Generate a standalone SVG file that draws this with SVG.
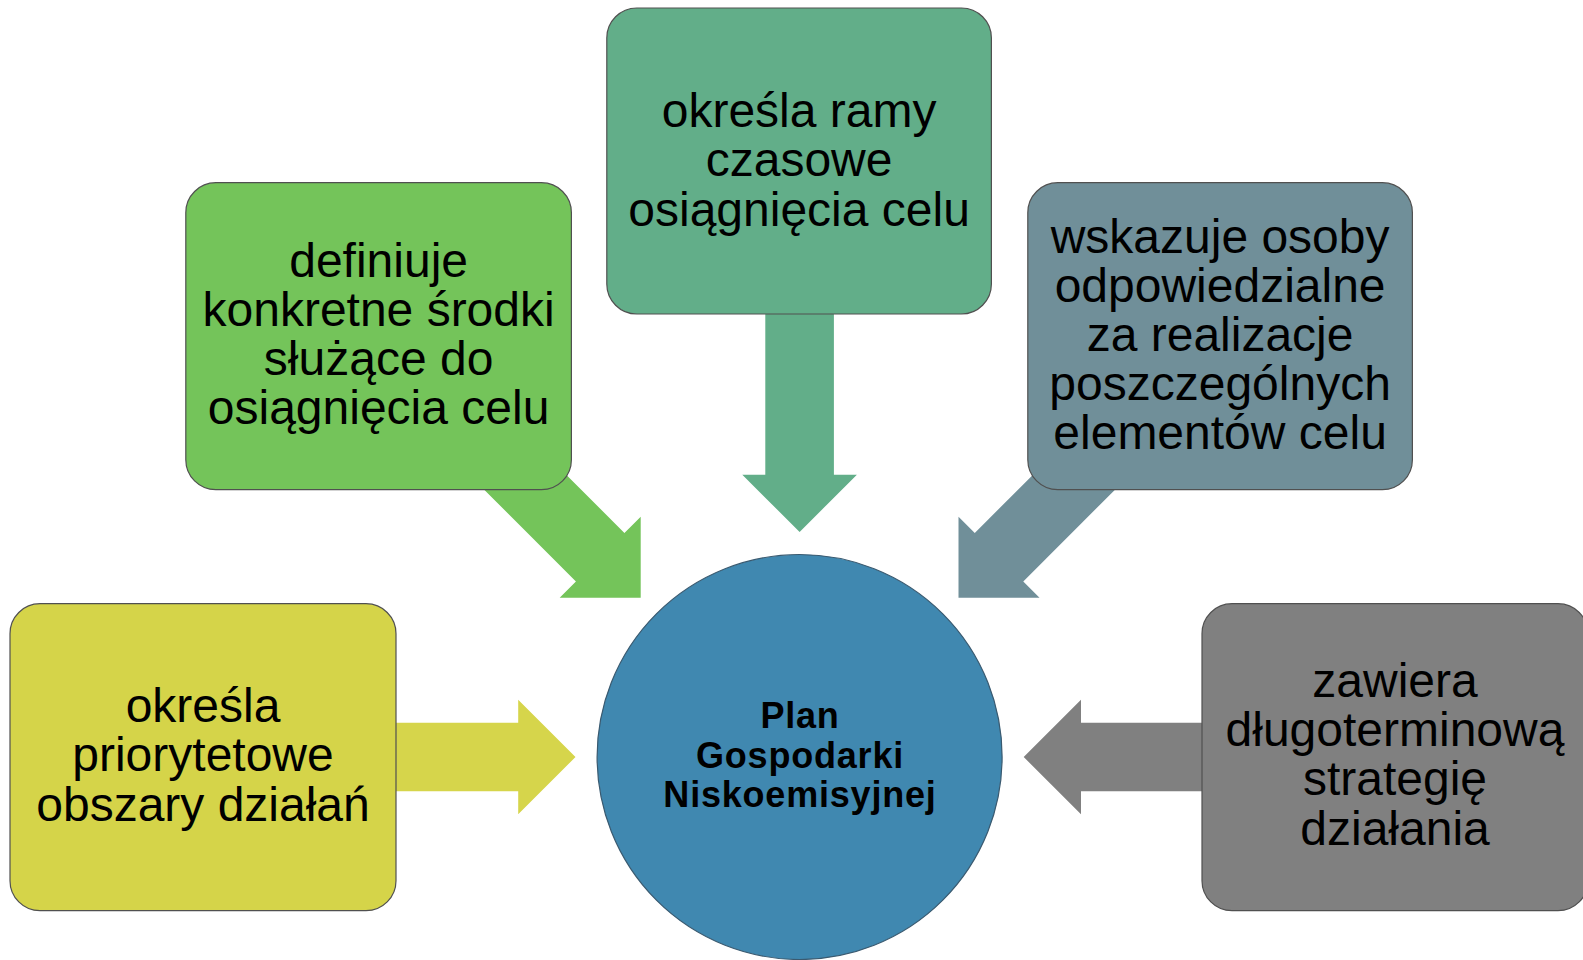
<svg xmlns="http://www.w3.org/2000/svg" width="1583" height="960" viewBox="0 0 1583 960">
<style>
.box{stroke:#505050;stroke-width:1.2}
.t{font-family:"Liberation Sans",Arial,sans-serif;font-size:48px;fill:#000;text-anchor:middle}
.c{font-family:"Liberation Sans",Arial,sans-serif;font-size:36px;font-weight:bold;fill:#000;text-anchor:middle;letter-spacing:0.8px}
</style>
<defs>
<path id="arr" d="M0,0 L-57.3,-57.3 L-57.3,-34.3 L-220,-34.3 L-220,34.3 L-57.3,34.3 L-57.3,57.3 Z"/>
</defs>
<rect width="1583" height="960" fill="#fff"/>
<g id="connectors">
<use href="#arr" fill="#D6D54B" transform="translate(575.5,757)"/>
<use href="#arr" fill="#808080" transform="translate(1023.7,757) rotate(180)"/>
<use href="#arr" fill="#62AE89" transform="translate(799.6,532) rotate(90)"/>
<use href="#arr" fill="#74C45A" transform="translate(640.7,597.7) rotate(45)"/>
<use href="#arr" fill="#708F99" transform="translate(958.5,597.7) rotate(135)"/>
</g>
<g id="center">
<circle cx="799.6" cy="757" r="202.5" fill="#4088B0" stroke="#3a5a70" stroke-width="1.2"/>
<text class="c" x="800" y="728">Plan</text>
<text class="c" x="800" y="767.5">Gospodarki</text>
<text class="c" x="800" y="806.5">Niskoemisyjnej</text>
</g>
<g id="node-yellow">
<rect class="box" x="10" y="603.7" width="386" height="307" rx="30" fill="#D5D449"/>
<text class="t" x="203" y="722">określa</text>
<text class="t" x="203" y="771.3">priorytetowe</text>
<text class="t" x="203" y="820.6">obszary działań</text>
</g>
<g id="node-green">
<rect class="box" x="185.8" y="182.7" width="385.6" height="307" rx="30" fill="#74C45A"/>
<text class="t" x="378.6" y="276.5">definiuje</text>
<text class="t" x="378.6" y="325.8">konkretne środki</text>
<text class="t" x="378.6" y="375.1">służące do</text>
<text class="t" x="378.6" y="424.4">osiągnięcia celu</text>
</g>
<g id="node-teal">
<rect class="box" x="606.8" y="8" width="384.6" height="306" rx="30" fill="#62AE89"/>
<text class="t" x="799.1" y="127">określa ramy</text>
<text class="t" x="799.1" y="176.3">czasowe</text>
<text class="t" x="799.1" y="225.6">osiągnięcia celu</text>
</g>
<g id="node-slate">
<rect class="box" x="1027.8" y="182.7" width="384.6" height="307" rx="30" fill="#708F99"/>
<text class="t" x="1220.1" y="252.5">wskazuje osoby</text>
<text class="t" x="1220.1" y="301.6">odpowiedzialne</text>
<text class="t" x="1220.1" y="350.7">za realizacje</text>
<text class="t" x="1220.1" y="399.8">poszczególnych</text>
<text class="t" x="1220.1" y="448.9">elementów celu</text>
</g>
<g id="node-gray">
<rect class="box" x="1202" y="603.7" width="386" height="307" rx="30" fill="#808080"/>
<text class="t" x="1395" y="696.6">zawiera</text>
<text class="t" x="1395" y="745.9">długoterminową</text>
<text class="t" x="1395" y="795.2">strategię</text>
<text class="t" x="1395" y="844.5">działania</text>
</g>
</svg>
